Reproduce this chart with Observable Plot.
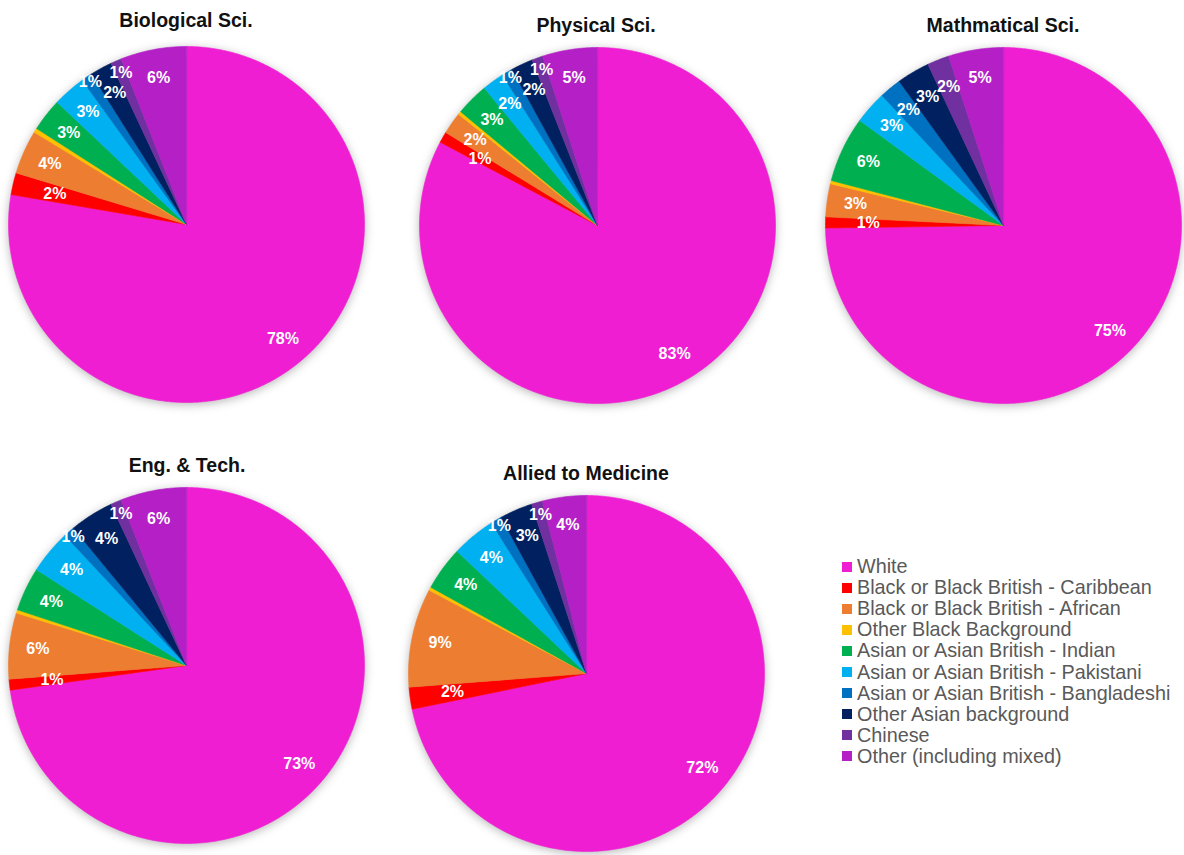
<!DOCTYPE html>
<html>
<head>
<meta charset="utf-8">
<script src="https://cdn.jsdelivr.net/npm/d3@7"></script>
<script src="https://cdn.jsdelivr.net/npm/@observablehq/plot@0.6"></script>
<style>
  html, body { margin: 0; padding: 0; background: #ffffff; }
  #root { position: relative; width: 1184px; height: 855px; overflow: hidden; font-family: "Liberation Sans", Arial, sans-serif; }
  .title { position: absolute; transform: translate(-50%, -50%); font-weight: bold; font-size: 19.5px; color: #111; white-space: nowrap; }
  .pie { position: absolute; }
  .pie svg { overflow: visible; }
  #legend { position: absolute; left: 842px; top: 556px; }
  .lrow { display: flex; align-items: center; height: 21.1px; font-size: 19.8px; color: #595959; white-space: nowrap; }
  .sw { width: 10px; height: 10px; margin-right: 5px; flex: none; }
</style>
</head>
<body>
<div id="root"></div>
<script>
// ---- data ----
const categories = [
  "White",
  "Black or Black British - Caribbean",
  "Black or Black British - African",
  "Other Black Background",
  "Asian or Asian British - Indian",
  "Asian or Asian British - Pakistani",
  "Asian or Asian British - Bangladeshi",
  "Other Asian background",
  "Chinese",
  "Other (including mixed)"
];
const colors = ["#F01ED2", "#FF0000", "#ED7D31", "#FFC000", "#00B050", "#00B0F0", "#0070C0", "#002060", "#7030A0", "#B41FC6"];

const subjects = ["Biological Sci.", "Physical Sci.", "Mathmatical Sci.", "Eng. & Tech.", "Allied to Medicine"];
const biological = [78, 2, 4, 0.4, 3, 3, 1, 2, 1, 6];
const physical   = [83, 1, 2, 0.3, 3, 2, 1, 2, 1, 5];
const mathematical = [75, 1, 3, 0.3, 6, 3, 2, 3, 2, 5];
const engineering = [73, 1, 6, 0.3, 4, 4, 1, 4, 1, 6];
const allied = [72, 2, 9, 0.3, 4, 4, 1, 3, 1, 4];
const seriesList = [biological, physical, mathematical, engineering, allied];

// ---- layout ----
const R = 178;
const layout = [
  {cx: 186, cy: 224, tx: 186, ty: 20},
  {cx: 597, cy: 225, tx: 596, ty: 25},
  {cx: 1003, cy: 225, tx: 1003, ty: 25},
  {cx: 186, cy: 665, tx: 187, ty: 465},
  {cx: 586, cy: 673, tx: 586, ty: 473}
];

const root = document.getElementById("root");

function pieChart(values) {
  const arcs = d3.pie().sort(null).value(d => d)(values);
  const slices = [];
  const labels = [];
  arcs.forEach((a, i) => {
    const cat = categories[i];
    slices.push({cat, x: 0, y: 0});
    const steps = Math.max(2, Math.ceil((a.endAngle - a.startAngle) / (Math.PI / 360)));
    for (let k = 0; k <= steps; k++) {
      const t = a.startAngle + (a.endAngle - a.startAngle) * k / steps;
      slices.push({cat, x: Math.sin(t), y: Math.cos(t)});
    }
    const v = values[i];
    if (Math.round(v) >= 1) {
      const mid = (a.startAngle + a.endAngle) / 2;
      let r = 0.84;
      if (i === 1) r = 0.76;
      else if (v <= 1 && i === 6) r = 0.965;
      else if (v <= 1 && i >= 4) r = 0.93;
      labels.push({x: r * Math.sin(mid), y: r * Math.cos(mid), text: Math.round(v) + "%"});
    }
  });
  const svg = Plot.plot({
    width: 2 * R + 4,
    height: 2 * R + 4,
    margin: 2,
    x: {domain: [-1, 1], axis: null},
    y: {domain: [-1, 1], axis: null},
    color: {domain: categories, range: colors},
    style: {background: "transparent", overflow: "visible"},
    marks: [
      Plot.line(slices, {x: "x", y: "y", z: "cat", fill: "cat", stroke: "cat", strokeWidth: 0.6, curve: "linear-closed"}),
      Plot.text(labels, {x: "x", y: "y", text: "text", fill: "white", fontWeight: "bold", fontSize: 16, fontFamily: "Liberation Sans, Arial, sans-serif"})
    ]
  });
  const g = svg.querySelector('g[aria-label="line"]');
  if (g) g.style.filter = "drop-shadow(0px 2px 5px rgba(0,0,0,0.28))";
  return svg;
}

seriesList.forEach((vals, i) => {
  const L = layout[i];
  const wrap = document.createElement("div");
  wrap.className = "pie";
  wrap.style.left = (L.cx - R - 2) + "px";
  wrap.style.top = (L.cy - R - 2) + "px";
  wrap.appendChild(pieChart(vals));
  root.appendChild(wrap);
  const t = document.createElement("div");
  t.className = "title";
  t.style.left = L.tx + "px";
  t.style.top = L.ty + "px";
  t.textContent = subjects[i];
  root.appendChild(t);
});

const legend = document.createElement("div");
legend.id = "legend";
categories.forEach((c, i) => {
  const row = document.createElement("div");
  row.className = "lrow";
  const sw = document.createElement("span");
  sw.className = "sw";
  sw.style.background = colors[i];
  const tx = document.createElement("span");
  tx.textContent = c;
  row.appendChild(sw);
  row.appendChild(tx);
  legend.appendChild(row);
});
root.appendChild(legend);
</script>
</body>
</html>
